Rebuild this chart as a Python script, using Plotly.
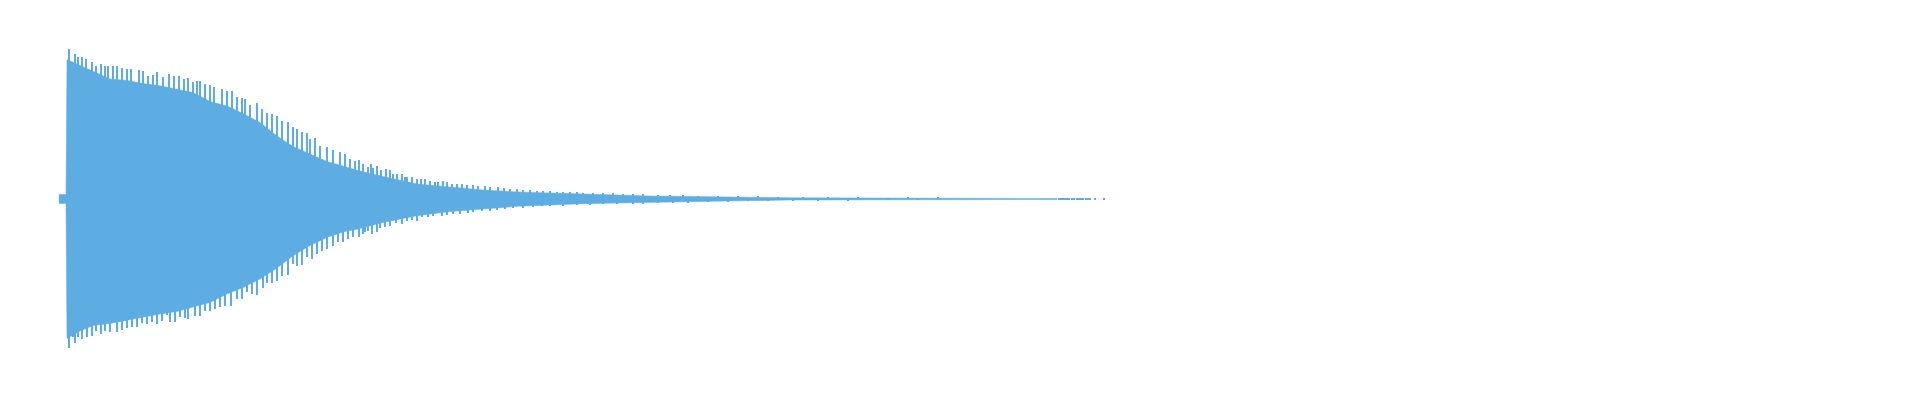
import plotly.graph_objects as go

# waveform colour
azul = "#5dade2"

# time in ms (1 ms ~ 1 px on screen), amplitudes normalised to [-1, 1]
# solid body of the waveform: upper and lower envelope
t_env = [1, 8, 9, 22, 35, 52, 69, 85, 102, 119, 135, 152, 169, 185, 202, 219,
         235, 252, 269, 285, 300, 325, 359, 392, 425, 459, 492, 525, 559, 592,
         632, 682, 732, 822, 999]
env_hi = [0.03, 0.03, 0.93, 0.89, 0.85, 0.80, 0.79, 0.77, 0.755, 0.73, 0.71, 0.65,
          0.62, 0.57, 0.51, 0.42, 0.35, 0.30, 0.25, 0.22, 0.19, 0.15, 0.10, 0.08,
          0.06, 0.047, 0.04, 0.033, 0.027, 0.02, 0.017, 0.012, 0.008, 0.006, 0.003]
env_lo = [0.03, 0.03, 0.93, 0.88, 0.844, 0.83, 0.81, 0.79, 0.767, 0.75, 0.72, 0.69,
          0.633, 0.59, 0.533, 0.46, 0.378, 0.31, 0.256, 0.22, 0.20, 0.156, 0.111,
          0.084, 0.067, 0.049, 0.038, 0.031, 0.027, 0.024, 0.02, 0.012, 0.007,
          0.004, 0.003]

# peaks sticking out above the body
t_hi = [11, 17, 20, 24, 28, 34, 38, 43, 47, 50, 55, 59, 64, 69, 73, 81, 85, 90,
        95, 99, 105, 111, 116, 121, 126, 130, 135, 139, 142, 147, 152, 156, 164,
        169, 174, 179, 184, 187, 192, 199, 204, 209, 214, 219, 224, 230, 235, 239,
        244, 249, 252, 257, 262, 269, 275, 282, 287, 292, 297, 301, 305, 310, 313,
        315, 319, 323, 328, 332, 335, 339, 344, 347, 349, 354, 359, 363, 367, 372,
        377, 380, 385, 389, 394, 399, 404, 409, 415, 420, 427, 432, 440, 446, 452,
        459, 465, 472, 479, 485, 492, 499, 505, 512, 519, 525, 535, 545, 555, 565,
        575, 585, 600, 612, 625, 640, 660, 680, 700, 720, 745, 770, 800, 850, 880]
pk_hi = [1.00, 0.967, 0.945, 0.945, 0.933, 0.911, 0.885, 0.90, 0.885, 0.885, 0.889,
         0.889, 0.871, 0.867, 0.867, 0.86, 0.851, 0.822, 0.827, 0.844, 0.811, 0.833,
         0.822, 0.818, 0.80, 0.807, 0.778, 0.789, 0.789, 0.767, 0.76, 0.749, 0.733,
         0.722, 0.722, 0.678, 0.671, 0.667, 0.627, 0.64, 0.60, 0.573, 0.567, 0.551,
         0.522, 0.511, 0.478, 0.467, 0.449, 0.44, 0.40, 0.407, 0.356, 0.344, 0.329,
         0.311, 0.30, 0.267, 0.256, 0.262, 0.233, 0.211, 0.233, 0.204, 0.222, 0.196,
         0.20, 0.196, 0.167, 0.167, 0.167, 0.144, 0.149, 0.144, 0.133, 0.133, 0.133,
         0.122, 0.116, 0.116, 0.12, 0.111, 0.10, 0.098, 0.098, 0.096, 0.093, 0.089,
         0.089, 0.08, 0.078, 0.071, 0.067, 0.067, 0.06, 0.06, 0.056, 0.053, 0.051,
         0.049, 0.044, 0.044, 0.044, 0.04, 0.04, 0.04, 0.038, 0.033, 0.033, 0.033,
         0.027, 0.025, 0.026, 0.022, 0.02, 0.018, 0.017, 0.015, 0.012, 0.01, 0.009,
         0.008, 0.007]

# peaks below the body
t_lo = [11, 15, 17, 20, 24, 29, 34, 38, 43, 47, 52, 59, 64, 69, 74, 79, 84, 89,
        94, 99, 104, 109, 112, 117, 122, 127, 130, 137, 142, 147, 152, 157, 162,
        167, 173, 179, 184, 189, 194, 199, 205, 209, 214, 219, 224, 230, 235, 239,
        244, 249, 254, 259, 264, 269, 275, 280, 285, 290, 295, 301, 305, 307, 310,
        314, 319, 322, 327, 332, 338, 344, 349, 354, 359, 364, 370, 375, 384, 389,
        395, 402, 410, 415, 424, 432, 439, 447, 455, 465, 475, 484, 492, 505, 519,
        532, 545, 559, 575, 585, 600, 615, 630, 650, 670, 690, 710, 735, 760, 790,
        830, 860]
pk_lo = [0.99, 0.92, 0.96, 0.92, 0.933, 0.92, 0.911, 0.878, 0.90, 0.878, 0.884,
         0.884, 0.871, 0.862, 0.856, 0.856, 0.829, 0.833, 0.822, 0.833, 0.811, 0.773,
         0.818, 0.818, 0.789, 0.796, 0.80, 0.778, 0.782, 0.744, 0.744, 0.733, 0.722,
         0.711, 0.711, 0.667, 0.667, 0.622, 0.633, 0.64, 0.596, 0.56, 0.56, 0.544,
         0.511, 0.507, 0.433, 0.444, 0.44, 0.389, 0.40, 0.367, 0.344, 0.333, 0.311,
         0.289, 0.289, 0.267, 0.256, 0.256, 0.233, 0.222, 0.211, 0.233, 0.218, 0.196,
         0.189, 0.182, 0.16, 0.167, 0.144, 0.138, 0.144, 0.122, 0.122, 0.116, 0.111,
         0.107, 0.098, 0.098, 0.093, 0.089, 0.082, 0.08, 0.076, 0.067, 0.062, 0.058,
         0.053, 0.049, 0.044, 0.044, 0.04, 0.038, 0.036, 0.033, 0.033, 0.031, 0.027,
         0.028, 0.025, 0.02, 0.018, 0.016, 0.015, 0.012, 0.01, 0.008, 0.006, 0.005]

# last scattered samples at the very end
t_cola = [1001, 1003, 1005, 1007, 1009, 1011, 1014, 1016, 1019, 1021, 1023, 1025,
          1028, 1030, 1032, 1037, 1046]
amp_cola = [0.003] * len(t_cola)

duracion = 1804

fig = go.Figure()

# solid body as a closed polygon
fig.add_trace(go.Scatter(
    x=t_env + t_env[::-1],
    y=env_hi + [-v for v in env_lo[::-1]],
    fill="toself", fillcolor=azul, mode="lines",
    line=dict(width=0.5, color=azul), hoverinfo="skip"))

fig.add_trace(go.Bar(x=t_hi, y=pk_hi, width=1.4, marker=dict(color=azul, line=dict(width=0))))
fig.add_trace(go.Bar(x=t_lo, y=[-v for v in pk_lo], width=1.4,
                     marker=dict(color=azul, line=dict(width=0))))
fig.add_trace(go.Bar(x=t_cola, y=[2 * a for a in amp_cola], base=[-a for a in amp_cola],
                     width=1.4, marker=dict(color=azul, line=dict(width=0))))

# the page adds 8 px around the figure, margins account for it
fig.update_layout(
    width=1920, height=400,
    margin=dict(l=50, r=66, t=41, b=59),
    paper_bgcolor="white", plot_bgcolor="white",
    showlegend=False, barmode="overlay", bargap=0,
    xaxis=dict(range=[0, duracion], visible=False),
    yaxis=dict(range=[-1, 1], visible=False),
)

fig.write_html("out.html")
